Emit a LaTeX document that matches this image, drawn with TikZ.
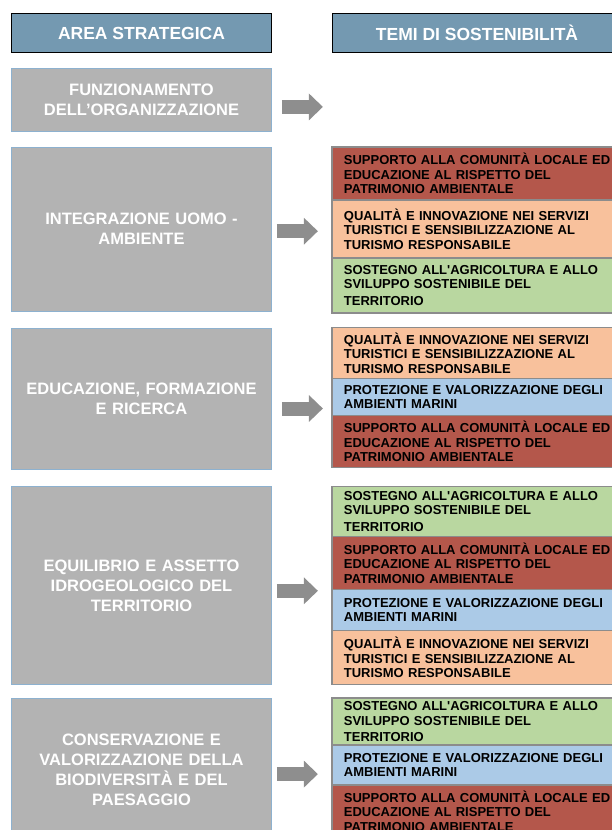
\documentclass[tikz,border=0pt]{standalone}
\usepackage{fontspec}
\setmainfont{Liberation Sans}
\usetikzlibrary{positioning, arrows.meta, calc}

\definecolor{blutestata}{HTML}{7499B1}
\definecolor{grigioarea}{HTML}{B3B3B3}
\definecolor{bordoarea}{HTML}{8DB1CF}
\definecolor{bordotema}{HTML}{8C8C8C}
\definecolor{rosso}{HTML}{B4574B}
\definecolor{pesca}{HTML}{F8C19C}
\definecolor{verde}{HTML}{B9D7A0}
\definecolor{azzurro}{HTML}{ABCAE7}
\definecolor{grigiofreccia}{HTML}{8E8E8E}

\newcommand{\supporto}{SUPPORTO ALLA COMUNITÀ LOCALE ED\\EDUCAZIONE AL RISPETTO DEL\\PATRIMONIO AMBIENTALE}
\newcommand{\qualita}{QUALITÀ E INNOVAZIONE NEI SERVIZI\\TURISTICI E SENSIBILIZZAZIONE AL\\TURISMO RESPONSABILE}
\newcommand{\sostegno}{SOSTEGNO ALL\textquotesingle AGRICOLTURA E ALLO\\SVILUPPO SOSTENIBILE DEL\\[2pt]TERRITORIO}
\newcommand{\protezione}{PROTEZIONE E VALORIZZAZIONE DEGLI\\AMBIENTI MARINI}

\begin{document}
\begin{tikzpicture}[x=1pt, y=1pt, node distance=15pt,
  testata/.style={draw=black, line width=1pt, fill=blutestata, text=white,
    font=\bfseries\fontsize{17.5}{20}\selectfont, minimum height=39pt, inner sep=0pt},
  area/.style={draw=bordoarea, line width=0.8pt, fill=grigioarea, text=white,
    font=\bfseries\fontsize{16.5}{20}\selectfont, minimum width=260pt,
    text width=250pt, align=center, inner sep=0pt},
  tema/.style={draw=bordotema, line width=1.5pt, text=black, outer sep=0pt,
    font=\bfseries\fontsize{13}{14.5}\selectfont, text width=280pt,
    align=left, inner xsep=12pt, inner ysep=0pt},
  freccia/.style={draw=grigiofreccia, line width=14pt,
    -{Triangle[length=14pt, width=26pt]}},
]
\useasboundingbox (0,0) rectangle (612,-830);
\clip (0,0) rectangle (612,-830);

% intestazioni
\node[testata, minimum width=260pt, anchor=north west] (area) at (11,-13) {AREA STRATEGICA};
\node[testata, minimum width=289pt, right=60pt of area] (temi) {TEMI DI SOSTENIBILITÀ};

% aree strategiche
\node[area, minimum height=63pt, below=15pt of area] (funz) {FUNZIONAMENTO\\DELL’ORGANIZZAZIONE};
\node[area, minimum height=164pt, below=15pt of funz] (integ) {INTEGRAZIONE UOMO -\\AMBIENTE};
\node[area, minimum height=141pt, below=16pt of integ] (educ) {EDUCAZIONE, FORMAZIONE\\E RICERCA};
\node[area, minimum height=198pt, below=17pt of educ] (equil) {EQUILIBRIO E ASSETTO\\IDROGEOLOGICO DEL\\TERRITORIO};
\node[area, minimum height=143pt, below=13pt of equil] (cons) {CONSERVAZIONE E\\VALORIZZAZIONE DELLA\\BIODIVERSITÀ E DEL\\PAESAGGIO};

% temi
\node[tema, fill=rosso, minimum height=53pt, right=60pt of integ.north east, anchor=north west] (t2a) {\supporto};
\node[tema, fill=pesca, minimum height=58pt, below=0pt of t2a] (t2b) {\qualita};
\node[tema, fill=verde, minimum height=55pt, below=0pt of t2b] (t2c) {\sostegno};

\node[tema, fill=pesca, minimum height=51pt, right=60pt of educ.north east, anchor=north west] (t3a) {\qualita};
\node[tema, fill=azzurro, minimum height=37pt, below=0pt of t3a] (t3b) {\protezione};
\node[tema, fill=rosso, minimum height=52pt, below=0pt of t3b] (t3c) {\supporto};

\node[tema, fill=verde, minimum height=50pt, right=60pt of equil.north east, anchor=north west] (t4a) {\sostegno};
\node[tema, fill=rosso, minimum height=53pt, below=0pt of t4a] (t4b) {\supporto};
\node[tema, fill=azzurro, minimum height=41pt, below=0pt of t4b] (t4c) {\protezione};
\node[tema, fill=pesca, minimum height=54pt, below=0pt of t4c] (t4d) {\qualita};

\node[tema, fill=verde, minimum height=47pt, right=60pt of cons.north east, anchor=north west] (t5a) {\sostegno};
\node[tema, fill=azzurro, minimum height=40pt, below=0pt of t5a] (t5b) {\protezione};
\node[tema, fill=rosso, minimum height=52pt, below=0pt of t5b] (t5c) {\supporto};

% frecce
\coordinate[right=51pt of funz.east] (fine1);
\draw[freccia, shorten <=10pt] ($(funz.east)+(0,-7)$) -- ($(fine1)+(0,-7)$);
\draw[freccia, shorten <=5pt, shorten >=14pt] ($(integ.east)+(0,-2)$) -- ($(integ.east -| t2a.west)+(0,-2)$);
\draw[freccia, shorten <=10pt, shorten >=9pt] ($(educ.east)+(0,-10)$) -- ($(educ.east -| t3a.west)+(0,-10)$);
\draw[freccia, shorten <=5pt, shorten >=14pt] ($(equil.east)+(0,-5)$) -- ($(equil.east -| t4a.west)+(0,-5)$);
\draw[freccia, shorten <=5pt, shorten >=14pt] ($(cons.east)+(0,-4)$) -- ($(cons.east -| t5a.west)+(0,-4)$);

\end{tikzpicture}
\end{document}
